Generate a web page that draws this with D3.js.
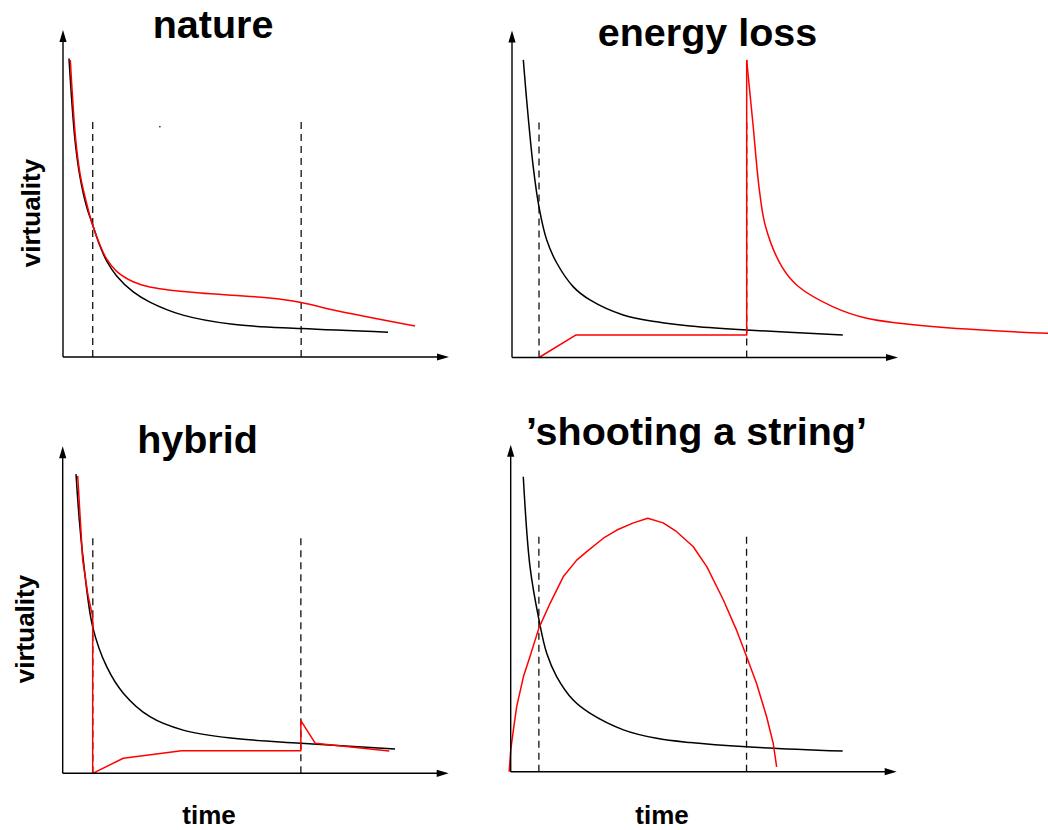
<!DOCTYPE html>
<html>
<head>
<meta charset="utf-8">
<script src="https://cdn.jsdelivr.net/npm/d3@7"></script>
<style>
  body { margin: 0; background: #fff; }
  svg { display: block; }
</style>
</head>
<body>
<script>
// Virtuality vs. time sketches. Each axis runs 0..10 in arbitrary units.
// Points are [time, virtuality].

// --- nature ---
const natureBlack = [[0.155,9.13],[0.31,6.64],[0.44,5.51],[0.61,4.60],[0.77,4.04],[0.95,3.42],[1.13,2.94],[1.39,2.48],[1.82,1.99],[2.25,1.68],[3.11,1.28],[4.40,1.00],[6.17,0.87],[8.42,0.76]];
const natureRed = [[0.19,9.08],[0.33,6.64],[0.45,5.55],[0.61,4.71],[0.77,4.02],[0.95,3.45],[1.13,3.00],[1.39,2.62],[1.82,2.30],[2.25,2.14],[2.69,2.06],[3.55,1.96],[5.28,1.81],[6.17,1.67],[7.00,1.44],[9.12,0.95]];
const natureCuts = [0.77, 6.17];
const natureSpeck = [[2.51, 7.04]];

// --- energy loss ---
const energyBlack = [[0.293,9.10],[0.38,7.87],[0.55,5.83],[0.70,4.60],[0.90,3.59],[1.16,2.89],[1.59,2.16],[2.02,1.76],[2.88,1.30],[3.75,1.09],[4.61,0.96],[6.08,0.84],[8.57,0.69]];
const energyRedRise = [[0.70,0],[1.66,0.69],[6.08,0.69],[6.08,9.10]];
const energyRedDecay = [[6.08,9.10],[6.13,8.49],[6.24,7.17],[6.41,5.11],[6.57,4.00],[6.99,2.78],[7.42,2.17],[8.32,1.55],[9.19,1.20],[10.05,1.05],[11.78,0.87],[13.89,0.74],[14.2,0.73]];
const energyCuts = [0.70, 6.08];

// --- hybrid ---
const hybridBlack = [[0.345,9.15],[0.43,7.75],[0.534,6.52],[0.777,4.48],[1.14,3.26],[1.57,2.45],[2.26,1.73],[3.12,1.32],[4.42,1.07],[6.17,0.92],[8.61,0.74]];
const hybridRed = [[0.389,9.09],[0.518,6.52],[0.655,5.45],[0.777,4.79],[0.777,0],[1.57,0.46],[3.08,0.69],[6.17,0.69],[6.17,1.61],[6.54,0.92],[8.46,0.68]];
const hybridCuts = [0.78, 6.17];

// --- 'shooting a string' ---
const stringBlack = [[0.326,9.02],[0.50,6.27],[0.733,4.64],[0.933,3.62],[1.19,2.91],[1.62,2.19],[2.05,1.79],[2.92,1.28],[3.78,1.02],[4.65,0.89],[6.11,0.76],[8.60,0.63]];
const stringRed = [[-0.04,0],[0.00,0.66],[0.07,1.28],[0.155,1.99],[0.33,2.91],[0.50,3.52],[0.73,4.39],[1.02,5.15],[1.36,5.96],[1.71,6.47],[1.97,6.73],[2.40,7.14],[2.75,7.39],[3.18,7.61],[3.55,7.75],[3.95,7.61],[4.30,7.34],[4.73,6.88],[5.08,6.27],[5.51,5.25],[5.85,4.33],[6.11,3.52],[6.37,2.70],[6.63,1.68],[6.80,0.87],[6.89,0.15]];
const stringCuts = [0.73, 6.11];

const cutTop = 7.27;        // upper end of the dashed markers
const axisMax = [10, 10];   // time, virtuality

const titles = ["nature", "energy loss", "hybrid", "\u2019shooting a string\u2019"];
const yLabel = "virtuality";
const xLabel = "time";

// ---- layout ----
const W = 1048, H = 830;
const axisW = 386, axisH = 327;
const smooth = d3.curveCatmullRom.alpha(0.5);

const panels = [
  { ox: 63,    oy: 357,   title: titles[0], tx: 213,   ty: 37.5,
    ylab: { x: 40, y: 213 }, xlab: null,
    cuts: natureCuts,
    lines: [ { d: natureBlack, c: "#000", curve: smooth },
             { d: natureRed,   c: "#f00", curve: smooth } ],
    dots: natureSpeck },
  { ox: 512,   oy: 357.5, title: titles[1], tx: 707.5, ty: 45.5,
    ylab: null, xlab: null,
    cuts: energyCuts,
    lines: [ { d: energyBlack,    c: "#000", curve: smooth },
             { d: energyRedRise,  c: "#f00", curve: d3.curveLinear },
             { d: energyRedDecay, c: "#f00", curve: smooth } ],
    dots: [] },
  { ox: 62.7,  oy: 773.3, title: titles[2], tx: 197.5, ty: 453,
    ylab: { x: 34, y: 629 }, xlab: { x: 209, y: 823.5 },
    cuts: hybridCuts,
    lines: [ { d: hybridBlack, c: "#000", curve: smooth },
             { d: hybridRed,   c: "#f00", curve: d3.curveLinear } ],
    dots: [] },
  { ox: 510.7, oy: 771.7, title: titles[3], tx: 696.5, ty: 445,
    ylab: null, xlab: { x: 662, y: 823.5 },
    cuts: stringCuts,
    lines: [ { d: stringBlack, c: "#000", curve: smooth },
             { d: stringRed,   c: "#f00", curve: d3.curveLinear } ],
    dots: [] }
];

const svg = d3.select("body").append("svg")
  .attr("width", W).attr("height", H)
  .attr("viewBox", `0 0 ${W} ${H}`);
svg.append("rect").attr("width", W).attr("height", H).attr("fill", "#fff");

const font = "'Liberation Sans', Arial, Helvetica, sans-serif";

panels.forEach(p => {
  const x = d3.scaleLinear().domain([0, axisMax[0]]).range([p.ox, p.ox + axisW]);
  const y = d3.scaleLinear().domain([0, axisMax[1]]).range([p.oy, p.oy - axisH]);
  const g = svg.append("g");

  // dashed markers
  g.selectAll("line.cut").data(p.cuts).join("line")
    .attr("class", "cut")
    .attr("x1", d => x(d)).attr("x2", d => x(d))
    .attr("y1", y(0)).attr("y2", y(cutTop))
    .attr("stroke", "#111").attr("stroke-width", 1.3)
    .attr("stroke-dasharray", "7,5");

  // curves
  p.lines.forEach(l => {
    const line = d3.line().x(d => x(d[0])).y(d => y(d[1])).curve(l.curve);
    g.append("path").attr("d", line(l.d))
      .attr("fill", "none").attr("stroke", l.c)
      .attr("stroke-width", 1.5).attr("stroke-linejoin", "round");
  });

  g.selectAll("circle.speck").data(p.dots).join("circle")
    .attr("class", "speck")
    .attr("cx", d => x(d[0])).attr("cy", d => y(d[1])).attr("r", 0.8)
    .attr("fill", "#000");

  // axes with arrowheads
  const ah = 12, aw = 3.6;
  g.append("line")
    .attr("x1", x(0)).attr("y1", y(0)).attr("x2", x(axisMax[0]) - ah + 1).attr("y2", y(0))
    .attr("stroke", "#000").attr("stroke-width", 1.4);
  g.append("line")
    .attr("x1", x(0)).attr("y1", y(0)).attr("x2", x(0)).attr("y2", y(axisMax[1]) + ah - 1)
    .attr("stroke", "#000").attr("stroke-width", 1.4);
  g.append("path")
    .attr("d", `M${x(axisMax[0])},${y(0)} L${x(axisMax[0]) - ah},${y(0) - aw} L${x(axisMax[0]) - ah},${y(0) + aw} Z`)
    .attr("fill", "#000");
  g.append("path")
    .attr("d", `M${x(0)},${y(axisMax[1])} L${x(0) - aw},${y(axisMax[1]) + ah} L${x(0) + aw},${y(axisMax[1]) + ah} Z`)
    .attr("fill", "#000");

  // title
  g.append("text").attr("x", p.tx).attr("y", p.ty)
    .attr("text-anchor", "middle")
    .attr("font-family", font).attr("font-weight", "bold").attr("font-size", 39.5)
    .text(p.title);

  if (p.ylab) {
    g.append("text")
      .attr("transform", `translate(${p.ylab.x},${p.ylab.y}) rotate(-90)`)
      .attr("text-anchor", "middle")
      .attr("font-family", font).attr("font-weight", "bold").attr("font-size", 26)
      .text(yLabel);
  }
  if (p.xlab) {
    g.append("text").attr("x", p.xlab.x).attr("y", p.xlab.y)
      .attr("text-anchor", "middle")
      .attr("font-family", font).attr("font-weight", "bold").attr("font-size", 26)
      .text(xLabel);
  }
});
</script>
</body>
</html>
